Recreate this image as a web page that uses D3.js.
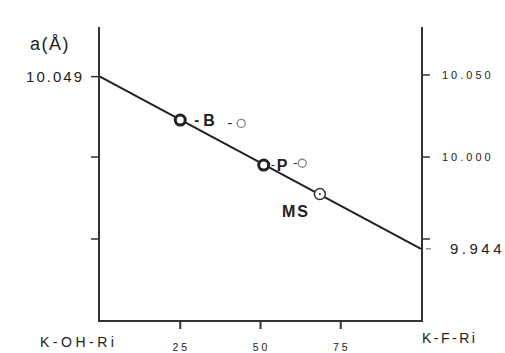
<!DOCTYPE html>
<html><head><meta charset="utf-8">
<script src="https://cdn.jsdelivr.net/npm/d3@7"></script>
<style>body{margin:0;background:#fff;} text{font-family:"Liberation Sans","DejaVu Sans",sans-serif;fill:#222;}</style>
</head><body>
<svg id="c" width="505" height="353"></svg>
<script>
// Data
const lineEnds = [{x:0, a:10.049}, {x:100, a:9.944}];
const darkPoints = [{name:"B", x:25, a:10.0225}, {name:"P", x:51, a:9.9951}];
const lightPoints = [{name:"B", x:44, a:10.0205}, {name:"P", x:63, a:9.9962}];
const msPoint = [{name:"MS", x:68.5, a:9.9774}];
const xTicks = [25, 50, 75];
const xTickLabels = ["25", "50", "75"];
const rightTicks = [10.05, 10.0, 9.95];
const rightTickLabels = ["10.050", "10.000", ""];
const leftTicks = [10.049, 10.0, 9.95];
const endLabels = ["K-OH-Ri", "K-F-Ri"];

const svg = d3.select("#c");
const x = d3.scaleLinear().domain([0,100]).range([100,421]);
const y = d3.scaleLinear().domain([9.95,10.05]).range([239,75]);
const yBottom = 321, yTop = 27;

// axes frame
svg.append("line").attr("x1",99).attr("x2",99).attr("y1",yTop).attr("y2",yBottom).attr("stroke","#333").attr("stroke-width",2);
svg.append("line").attr("x1",422).attr("x2",422).attr("y1",yTop).attr("y2",yBottom).attr("stroke","#333").attr("stroke-width",2);
svg.append("line").attr("x1",98).attr("x2",423).attr("y1",yBottom).attr("y2",yBottom).attr("stroke","#333").attr("stroke-width",2);

// bottom ticks
const xa = svg.append("g");
xa.selectAll("line").data(xTicks).join("line")
  .attr("x1",d=>x(d)).attr("x2",d=>x(d)).attr("y1",yBottom).attr("y2",yBottom+8)
  .attr("stroke","#333").attr("stroke-width",2);
xa.selectAll("text").data(xTicks).join("text")
  .attr("x",d=>x(d)+1).attr("y",351).attr("text-anchor","middle")
  .attr("font-size",10.5).attr("letter-spacing","3px")
  .text((d,i)=>xTickLabels[i]);

// left ticks
svg.append("g").selectAll("line").data(leftTicks).join("line")
  .attr("x1",91).attr("x2",99).attr("y1",d=>y(d)).attr("y2",d=>y(d))
  .attr("stroke","#333").attr("stroke-width",1.5);
// right ticks
svg.append("g").selectAll("line").data(rightTicks).join("line")
  .attr("x1",422).attr("x2",430).attr("y1",d=>y(d)).attr("y2",d=>y(d))
  .attr("stroke","#333").attr("stroke-width",1.5);
svg.append("g").selectAll("text").data(rightTicks).join("text")
  .attr("x",442).attr("y",d=>y(d)+4).attr("font-size",11).attr("letter-spacing","3px")
  .text((d,i)=>rightTickLabels[i]);
// 9.944 small tick
svg.append("line").attr("x1",426).attr("x2",431).attr("y1",y(9.944)).attr("y2",y(9.944)).attr("stroke","#666").attr("stroke-width",1);
svg.append("text").attr("x",450).attr("y",y(9.944)+5).attr("font-size",15).attr("letter-spacing","3.5px").text("9.944");
svg.append("text").attr("x",84).attr("y",y(10.049)+5).attr("font-size",15).attr("letter-spacing","2px").attr("text-anchor","end").text("10.049");
svg.append("text").attr("x",30).attr("y",50).attr("font-size",18).attr("letter-spacing","1.5px").text("a(Å)");

// line
svg.append("path").datum(lineEnds)
  .attr("d", d3.line().x(d=>x(d.x)).y(d=>y(d.a)))
  .attr("stroke","#222").attr("stroke-width",2).attr("fill","none");

// B label
svg.append("text").attr("x",x(darkPoints[0].x)+14).attr("y",y(darkPoints[0].a)+5).attr("font-size",15).attr("font-weight","bold").attr("fill","#333").text("-");
svg.append("text").attr("x",x(darkPoints[0].x)+23).attr("y",y(darkPoints[0].a)+6).attr("font-size",16).attr("font-weight","bold").text("B");
svg.append("text").attr("x",x(lightPoints[0].x)-14).attr("y",y(lightPoints[0].a)+5).attr("font-size",15).attr("fill","#666").text("-");
// P label
svg.append("text").attr("x",x(darkPoints[1].x)+7).attr("y",y(darkPoints[1].a)+4).attr("font-size",13).attr("fill","#555").text("-");
svg.append("text").attr("x",x(darkPoints[1].x)+13).attr("y",y(darkPoints[1].a)+6).attr("font-size",16).attr("font-weight","bold").text("P");
svg.append("text").attr("x",x(lightPoints[1].x)-9).attr("y",y(lightPoints[1].a)+4).attr("font-size",13).attr("fill","#555").text("-");
// MS label
svg.append("text").attr("x",x(msPoint[0].x)-38).attr("y",y(msPoint[0].a)+23).attr("font-size",16).attr("font-weight","bold").attr("letter-spacing","2px").text(msPoint[0].name);

// points
svg.append("g").selectAll("circle").data(darkPoints).join("circle")
  .attr("cx",d=>x(d.x)).attr("cy",d=>y(d.a)).attr("r",5)
  .attr("fill","#fff").attr("stroke","#222").attr("stroke-width",3);
svg.append("g").selectAll("circle").data(lightPoints).join("circle")
  .attr("cx",d=>x(d.x)).attr("cy",d=>y(d.a)).attr("r",4)
  .attr("fill","#fff").attr("stroke","#888").attr("stroke-width",1.3);
const ms = svg.append("g");
ms.selectAll("circle.o").data(msPoint).join("circle").attr("class","o")
  .attr("cx",d=>x(d.x)).attr("cy",d=>y(d.a)).attr("r",5.5)
  .attr("fill","#fff").attr("stroke","#333").attr("stroke-width",1.5);
ms.selectAll("circle.c").data(msPoint).join("circle").attr("class","c")
  .attr("cx",d=>x(d.x)).attr("cy",d=>y(d.a)).attr("r",1)
  .attr("fill","#333");

// end labels
svg.append("text").attr("x",40).attr("y",347).attr("font-size",14).attr("letter-spacing","3.5px").text(endLabels[0]);
svg.append("text").attr("x",422).attr("y",343).attr("font-size",14).attr("letter-spacing","2.5px").text(endLabels[1]);
</script>
</body></html>
